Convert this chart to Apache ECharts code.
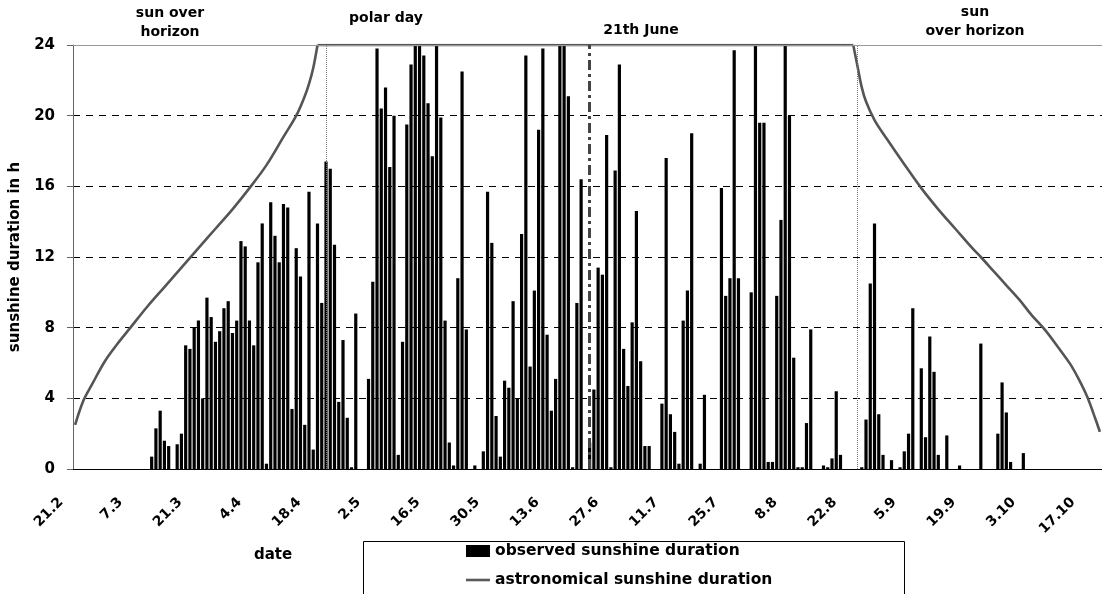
<!DOCTYPE html>
<html>
<head>
<meta charset="utf-8">
<title>Sunshine duration</title>
<script src="https://cdn.jsdelivr.net/npm/echarts@6/dist/echarts.min.js"></script>
<style>
  html, body { margin: 0; padding: 0; background: #fff; }
  #chart { width: 1102px; height: 594px; }
</style>
</head>
<body>
<div id="chart"></div>
<script>
// Daily categories start on 21 February (non-leap year) and run for dayCount days.
const firstDay = { day: 21, month: 2 };
const dayCount = 242;

// Labels shown on every 14th day.
const tickLabels = ['21.2', '7.3', '21.3', '4.4', '18.4', '2.5', '16.5', '30.5', '13.6',
  '27.6', '11.7', '25.7', '8.8', '22.8', '5.9', '19.9', '3.10', '17.10'];
const tickStep = 14;

// Observed daily sunshine duration in hours (one value per day).
const observed = [
  0, 0, 0, 0, 0, 0, 0, 0, 0, 0,
  0, 0, 0, 0, 0, 0, 0, 0, 0.7, 2.3,
  3.3, 1.6, 1.3, 0, 1.4, 2.0, 7.0, 6.8, 8.0, 8.4,
  4.0, 9.7, 8.6, 7.2, 7.8, 9.1, 9.5, 7.7, 8.4, 12.9,
  12.6, 8.4, 7.0, 11.7, 13.9, 0.3, 15.1, 13.2, 11.7, 15.0,
  14.8, 3.4, 12.5, 10.9, 2.5, 15.7, 1.1, 13.9, 9.4, 17.4,
  17.0, 12.7, 3.8, 7.3, 2.9, 0.1, 8.8, 0, 0, 5.1,
  10.6, 23.8, 20.4, 21.6, 17.1, 20.0, 0.8, 7.2, 19.5, 22.9,
  24.0, 24.0, 23.4, 20.7, 17.7, 24.0, 19.9, 8.4, 1.5, 0.2,
  10.8, 22.5, 7.9, 0, 0.2, 0, 1.0, 15.7, 12.8, 3.0,
  0.7, 5.0, 4.6, 9.5, 4.0, 13.3, 23.4, 5.8, 10.1, 19.2,
  23.8, 7.6, 3.3, 5.1, 24.0, 24.0, 21.1, 0.1, 9.4, 16.4,
  0, 1.5, 4.5, 11.4, 11.0, 18.9, 0.1, 16.9, 22.9, 6.8,
  4.7, 8.3, 14.6, 6.1, 1.3, 1.3, 0, 0, 3.7, 17.6,
  3.1, 2.1, 0.3, 8.4, 10.1, 19.0, 0, 0.3, 4.2, 0,
  0, 0, 15.9, 9.8, 10.8, 23.7, 10.8, 0, 0, 10.0,
  24.0, 19.6, 19.6, 0.4, 0.4, 9.8, 14.1, 24.0, 20.0, 6.3,
  0.1, 0.1, 2.6, 7.9, 0, 0, 0.2, 0.1, 0.6, 4.4,
  0.8, 0, 0, 0, 0, 0.1, 2.8, 10.5, 13.9, 3.1,
  0.8, 0, 0.5, 0, 0.1, 1.0, 2.0, 9.1, 0, 5.7,
  1.8, 7.5, 5.5, 0.8, 0, 1.9, 0, 0, 0.2, 0,
  0, 0, 0, 7.1, 0, 0, 0, 2.0, 4.9, 3.2,
  0.4, 0, 0, 0.9, 0, 0, 0, 0, 0, 0,
  0, 0, 0, 0, 0, 0, 0, 0, 0, 0,
  0, 0
];

// Astronomically possible sunshine duration (hours) at selected day indices:
// rising branch in spring, 24 h during polar day, falling branch in autumn.
const astroRiseDay = [0, 2, 4, 7, 10, 13, 17, 21, 25, 29, 33, 37, 41, 45, 49, 52, 54, 55, 56, 57];
const astroRiseHours = [2.5, 3.9, 4.8, 6.1, 7.1, 8.0, 9.2, 10.3, 11.4, 12.5, 13.6, 14.7,
  15.9, 17.2, 18.8, 20.0, 21.1, 21.8, 22.7, 24.0];
const astroPolarDay = [57, 183];
const astroPolarHours = [24.0, 24.0];
const astroFallDay = [183, 184, 185, 186, 188, 191, 195, 199, 203, 207, 211, 213, 216, 219,
  222, 225, 228, 231, 234, 236, 238, 240, 241];
const astroFallHours = [24.0, 22.8, 21.6, 20.8, 19.75, 18.65, 17.25, 15.9, 14.7, 13.6, 12.5,
  12.0, 11.2, 10.4, 9.6, 8.7, 7.9, 6.95, 5.95, 5.1, 4.1, 2.8, 2.1];

// Day indices of the reference lines: start/end of polar day and the solstice.
const polarDayStart = 59;
const polarDayEnd = 184;
const solsticeDay = 121;
const maxHours = 24;

const FONT = 'DejaVu Sans';
const OBS_NAME = 'observed sunshine duration';
const ASTRO_NAME = 'astronomical sunshine duration';

const categories = [];
for (let k = 0; k < dayCount; k++) {
  const d = new Date(Date.UTC(2001, firstDay.month - 1, firstDay.day + k));
  categories.push(d.getUTCDate() + '.' + (d.getUTCMonth() + 1));
}

const boldText = (size) => ({ fontFamily: FONT, fontWeight: 'bold', fontSize: size, color: '#000' });

const astroLine = (days, hours, smooth) => ({
  name: ASTRO_NAME,
  type: 'line',
  data: days.map((d, k) => [d, hours[k]]),
  symbol: 'none',
  smooth: smooth,
  lineStyle: { color: '#555', width: 2.6 },
  itemStyle: { color: '#5a5a5a' },
  z: 3
});

const chart = echarts.init(document.getElementById('chart'), null, { renderer: 'canvas' });

chart.setOption({
  animation: false,
  backgroundColor: '#fff',
  grid: { left: 73, right: 0, top: 45, bottom: 125, containLabel: false },
  xAxis: {
    type: 'category',
    data: categories,
    boundaryGap: true,
    axisLine: { lineStyle: { color: '#000', width: 1 } },
    axisTick: { interval: tickStep - 1, length: 5, lineStyle: { color: '#000' } },
    axisLabel: {
      interval: tickStep - 1,
      rotate: 45,
      margin: 17,
      padding: [0, 20, 0, 0],
      ...boldText(14),
      formatter: (val, idx) => tickLabels[idx / tickStep] || val
    },
    splitLine: { show: false }
  },
  yAxis: {
    type: 'value',
    min: 0,
    max: maxHours,
    interval: 4,
    name: 'sunshine duration in h',
    nameLocation: 'middle',
    nameGap: 50,
    nameTextStyle: boldText(15),
    axisLine: { show: true, lineStyle: { color: '#666', width: 1 } },
    axisTick: { show: true, length: 6, lineStyle: { color: '#666' } },
    axisLabel: { margin: 18, ...boldText(15) },
    splitLine: {
      show: true,
      lineStyle: { type: [7, 6], width: 1, color: ['#000', '#000', '#000', '#000', '#000', '#000', '#999'] }
    }
  },
  legend: {
    orient: 'vertical',
    left: 466,
    top: 542,
    padding: 0,
    itemWidth: 24,
    itemHeight: 12,
    itemGap: 11,
    textStyle: { ...boldText(15.5), lineHeight: 18 },
    data: [
      { name: OBS_NAME, icon: 'rect' },
      { name: ASTRO_NAME, icon: 'path://M0,0H24V2.6H0Z' }
    ]
  },
  series: [
    {
      name: OBS_NAME,
      type: 'bar',
      data: observed,
      barWidth: 3.2,
      itemStyle: { color: '#000' },
      z: 2,
      markLine: {
        silent: true,
        symbol: ['none', 'none'],
        label: { show: false },
        data: [
          { yAxis: maxHours, lineStyle: { type: 'solid', color: '#999', width: 1 } },
          { xAxis: polarDayStart, lineStyle: { type: [1, 1], color: '#777', width: 1 } },
          { xAxis: polarDayEnd, lineStyle: { type: [1, 1], color: '#777', width: 1 } },
          { xAxis: solsticeDay, lineStyle: { type: [10, 4, 3, 4], color: '#444', width: 3 } }
        ]
      }
    },
    astroLine(astroRiseDay, astroRiseHours, 0.35),
    astroLine(astroPolarDay, astroPolarHours, false),
    astroLine(astroFallDay, astroFallHours, 0.35)
  ],
  graphic: [
    {
      type: 'text', x: 170, y: 23,
      style: { text: 'sun over\nhorizon', align: 'center', verticalAlign: 'middle', lineHeight: 19,
        font: 'bold 14px "' + FONT + '"', fill: '#000' }
    },
    {
      type: 'text', x: 386, y: 18,
      style: { text: 'polar day', align: 'center', verticalAlign: 'middle',
        font: 'bold 14px "' + FONT + '"', fill: '#000' }
    },
    {
      type: 'text', x: 641, y: 30,
      style: { text: '21th June', align: 'center', verticalAlign: 'middle',
        font: 'bold 14px "' + FONT + '"', fill: '#000' }
    },
    {
      type: 'text', x: 975, y: 22,
      style: { text: 'sun\nover horizon', align: 'center', verticalAlign: 'middle', lineHeight: 19,
        font: 'bold 14px "' + FONT + '"', fill: '#000' }
    },
    {
      type: 'text', x: 273, y: 555,
      style: { text: 'date', align: 'center', verticalAlign: 'middle',
        font: 'bold 15px "' + FONT + '"', fill: '#000' }
    },
    {
      type: 'rect', silent: true,
      shape: { x: 363.5, y: 541.5, width: 541, height: 80 },
      style: { fill: 'none', stroke: '#000', lineWidth: 1 }
    }
  ]
});
</script>
</body>
</html>
